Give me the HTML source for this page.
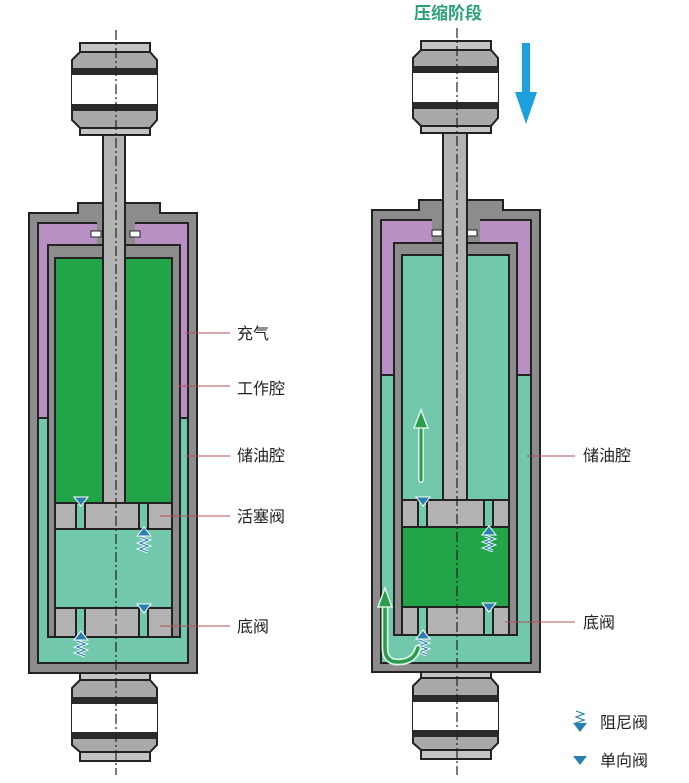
<!DOCTYPE html>
<html><head><meta charset="utf-8"><style>
html,body{margin:0;padding:0;background:#fff;}
svg{display:block;}
text{font-family:"Liberation Sans","Noto Sans CJK SC",sans-serif;}
</style></head><body>
<svg width="689" height="783" viewBox="0 0 689 783" xmlns="http://www.w3.org/2000/svg">
<defs>
<g id="mountTop">
  <rect x="80" y="43" width="70" height="9" fill="#c4c4c4" stroke="#222" stroke-width="2"/>
  <polygon points="72,60 80,52 150,52 157,60 157,120 150,128 80,128 72,120" fill="#a9a9a9" stroke="#222" stroke-width="2"/>
  <rect x="72" y="75" width="85" height="29" fill="#fff"/>
  <rect x="72" y="68" width="85" height="7" fill="#2a2a2a"/>
  <rect x="72" y="104" width="85" height="7" fill="#2a2a2a"/>
  <rect x="80" y="128" width="70" height="7" fill="#c4c4c4" stroke="#222" stroke-width="2"/>
</g>
<g id="mountBot">
  <rect x="80" y="673" width="70" height="7" fill="#c4c4c4" stroke="#222" stroke-width="2"/>
  <polygon points="72,688 80,680 150,680 157,688 157,745 150,752 80,752 72,745" fill="#a9a9a9" stroke="#222" stroke-width="2"/>
  <rect x="72" y="704" width="85" height="28" fill="#fff"/>
  <rect x="72" y="697" width="85" height="7" fill="#2a2a2a"/>
  <rect x="72" y="732" width="85" height="7" fill="#2a2a2a"/>
  <rect x="80" y="752" width="70" height="9" fill="#c4c4c4" stroke="#222" stroke-width="2"/>
</g>
<g id="spring">
  <polyline points="-4,0 4,3 -4,6 4,9 -4,12 4,15" fill="none" stroke="#fff" stroke-width="3"/>
  <polyline points="-4,0 4,3 -4,6 4,9 -4,12 4,15" fill="none" stroke="#2a7fb0" stroke-width="1.2"/>
</g>
</defs>

<!-- LEFT SHOCK -->
<g>
  <use href="#mountTop"/>
  <use href="#mountBot"/>
  <polygon points="29,213 78,213 78,203 160,203 160,213 197,213 197,673 29,673" fill="#8c8c8c" stroke="#222" stroke-width="2"/>
  <rect x="38" y="223" width="150" height="195" fill="#b990c4" stroke="#222" stroke-width="2"/>
  <rect x="38" y="418" width="150" height="245" fill="#72c8ac" stroke="#222" stroke-width="2"/>
  <rect x="97" y="205" width="38" height="40" fill="#8c8c8c"/>
  <rect x="48" y="245" width="132" height="392" fill="#8c8c8c" stroke="#222" stroke-width="2"/>
  <rect x="91" y="231" width="10" height="6" fill="#fff" stroke="#222" stroke-width="1"/>
  <rect x="130" y="231" width="10" height="6" fill="#fff" stroke="#222" stroke-width="1"/>
  <rect x="55" y="258" width="117" height="245" fill="#22a448" stroke="#222" stroke-width="2"/>
  <rect x="55" y="503" width="117" height="26" fill="#b3b3b3" stroke="#222" stroke-width="2"/>
  <rect x="55" y="529" width="117" height="79" fill="#72c8ac" stroke="#222" stroke-width="2"/>
  <rect x="55" y="608" width="117" height="29" fill="#b3b3b3" stroke="#222" stroke-width="2"/>
  <rect x="76" y="503" width="9" height="26" fill="#72c8ac" stroke="#222" stroke-width="2"/>
  <rect x="139" y="503" width="9" height="26" fill="#72c8ac" stroke="#222" stroke-width="2"/>
  <rect x="76" y="608" width="9" height="29" fill="#72c8ac" stroke="#222" stroke-width="2"/>
  <rect x="139" y="608" width="9" height="29" fill="#72c8ac" stroke="#222" stroke-width="2"/>
  <rect x="103" y="135" width="22" height="368" fill="#b3b3b3" stroke="#222" stroke-width="2"/>
  <!-- valves -->
  <polygon points="74,497 88,497 81,506" fill="#2a7fb0" stroke="#fff" stroke-width="1"/>
  <polygon points="137,604 151,604 144,613" fill="#2a7fb0" stroke="#fff" stroke-width="1"/>
  <polygon points="137,536 151,536 144,527" fill="#2a7fb0" stroke="#fff" stroke-width="1"/>
  <use href="#spring" x="144" y="537"/>
  <polygon points="74,640 88,640 81,631" fill="#2a7fb0" stroke="#fff" stroke-width="1"/>
  <use href="#spring" x="81" y="641"/>
  <line x1="116" y1="30" x2="116" y2="775" stroke="#222" stroke-width="1.2" stroke-dasharray="10,3,2,3"/>
</g>

<!-- RIGHT SHOCK -->
<g transform="translate(341,-2)">
  <use href="#mountTop"/>
  <use href="#mountBot"/>
  <polygon points="31,212 78,212 78,202 162,202 162,212 199,212 199,674 31,674" fill="#8c8c8c" stroke="#222" stroke-width="2"/>
  <rect x="40" y="222" width="150" height="155" fill="#b990c4" stroke="#222" stroke-width="2"/>
  <rect x="40" y="377" width="150" height="288" fill="#72c8ac" stroke="#222" stroke-width="2"/>
  <rect x="91" y="204" width="48" height="43" fill="#8c8c8c"/>
  <rect x="53" y="245" width="123" height="392" fill="#8c8c8c" stroke="#222" stroke-width="2"/>
  <rect x="91" y="232" width="10" height="6" fill="#fff" stroke="#222" stroke-width="1"/>
  <rect x="126" y="232" width="10" height="6" fill="#fff" stroke="#222" stroke-width="1"/>
  <rect x="61" y="257" width="107" height="245" fill="#72c8ac" stroke="#222" stroke-width="2"/>
  <rect x="61" y="502" width="107" height="27" fill="#b3b3b3" stroke="#222" stroke-width="2"/>
  <rect x="61" y="529" width="107" height="80" fill="#22a448" stroke="#222" stroke-width="2"/>
  <rect x="61" y="609" width="107" height="28" fill="#b3b3b3" stroke="#222" stroke-width="2"/>
  <rect x="77" y="502" width="9" height="27" fill="#72c8ac" stroke="#222" stroke-width="2"/>
  <rect x="143" y="502" width="9" height="27" fill="#72c8ac" stroke="#222" stroke-width="2"/>
  <rect x="77" y="609" width="9" height="28" fill="#72c8ac" stroke="#222" stroke-width="2"/>
  <rect x="143" y="609" width="9" height="28" fill="#72c8ac" stroke="#222" stroke-width="2"/>
  <rect x="102" y="135" width="24" height="367" fill="#b3b3b3" stroke="#222" stroke-width="2"/>
  <polygon points="75,499 89,499 82,508" fill="#2a7fb0" stroke="#fff" stroke-width="1"/>
  <polygon points="141,605 155,605 148,614" fill="#2a7fb0" stroke="#fff" stroke-width="1"/>
  <polygon points="141,537 155,537 148,528" fill="#2a7fb0" stroke="#fff" stroke-width="1"/>
  <use href="#spring" x="148" y="538"/>
  <polygon points="75,641 89,641 82,632" fill="#2a7fb0" stroke="#fff" stroke-width="1"/>
  <use href="#spring" x="82" y="642"/>
  <line x1="116" y1="30" x2="116" y2="777" stroke="#222" stroke-width="1.2" stroke-dasharray="10,3,2,3"/>
</g>

<!-- green flow arrows -->
<g fill="none" stroke-linecap="round">
  <line x1="421" y1="480" x2="421" y2="425" stroke="#d8f5e6" stroke-width="6"/>
  <line x1="421" y1="480" x2="421" y2="425" stroke="#2e9a4e" stroke-width="3"/>
  <path d="M418,648 Q414,662 398,662 Q385,662 385,648 L385,605" stroke="#d8f5e6" stroke-width="7"/>
  <path d="M418,648 Q414,662 398,662 Q385,662 385,648 L385,605" stroke="#2e9a4e" stroke-width="3.5"/>
</g>
<polygon points="421,410 414,428 428,428" fill="#2e9a4e" stroke="#d8f5e6" stroke-width="1.5"/>
<polygon points="385,588 378,607 392,607" fill="#2e9a4e" stroke="#d8f5e6" stroke-width="1.5"/>

<!-- blue down arrow -->
<rect x="522" y="43" width="8" height="55" fill="#1ea0dc"/>
<polygon points="515,92 537,92 526,124" fill="#1ea0dc"/>

<text x="414" y="19" font-size="17" fill="#2aa07a" font-weight="bold">压缩阶段</text>

<!-- leader lines -->
<g stroke="#b0505a" stroke-width="1">
  <line x1="185" y1="333" x2="230" y2="333"/>
  <line x1="178" y1="386" x2="230" y2="386"/>
  <line x1="186" y1="456" x2="230" y2="456"/>
  <line x1="160" y1="516" x2="230" y2="516"/>
  <line x1="160" y1="626" x2="230" y2="626"/>
  <line x1="527" y1="456" x2="575" y2="456"/>
  <line x1="505" y1="622" x2="575" y2="622"/>
</g>
<g font-size="16" fill="#222">
  <text x="237" y="339">充气</text>
  <text x="237" y="394">工作腔</text>
  <text x="237" y="461">储油腔</text>
  <text x="237" y="522">活塞阀</text>
  <text x="237" y="632">底阀</text>
  <text x="583" y="461">储油腔</text>
  <text x="583" y="628">底阀</text>
  <text x="600" y="728">阻尼阀</text>
  <text x="600" y="766">单向阀</text>
</g>
<use href="#spring" x="580" y="711"/>
<polygon points="573,723 587,723 580,732" fill="#2a7fb0"/>
<polygon points="573,756 587,756 580,765" fill="#2a7fb0"/>
</svg>
</body></html>
